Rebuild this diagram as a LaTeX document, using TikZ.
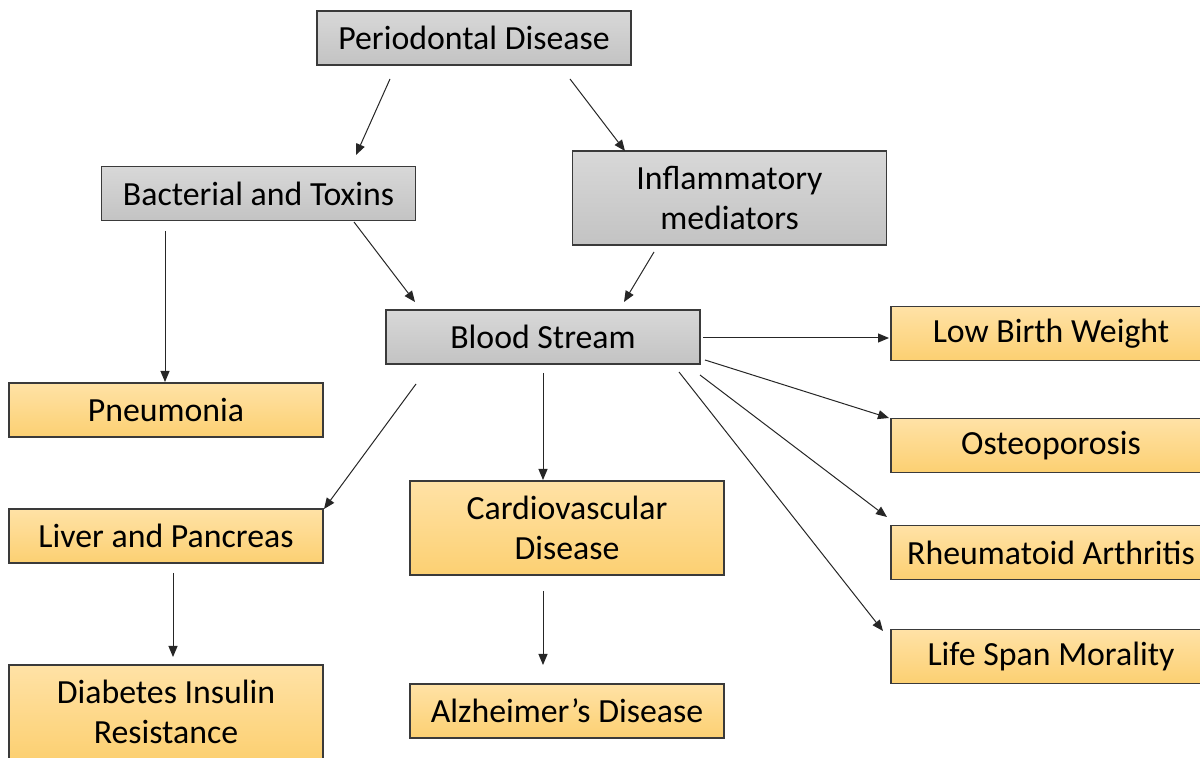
\documentclass[tikz,border=0pt]{standalone}
\usepackage{fontspec}
\setmainfont{Carlito}
\usetikzlibrary{arrows.meta}
\definecolor{orTop}{HTML}{FFE2A6}
\definecolor{orBot}{HTML}{FCD072}
\definecolor{grTop}{HTML}{D8D8D8}
\definecolor{grBot}{HTML}{C3C3C3}
\definecolor{edge}{HTML}{3A3A3A}
\begin{document}
\begin{tikzpicture}[x=0.5pt,y=-0.5pt,
  box/.style={draw=edge, line width=0.6pt, minimum width=157pt, inner sep=0pt, align=center,
    font=\fontsize{16.9}{19.8}\selectfont},
  graybox/.style={box, top color=grTop, bottom color=grBot},
  orangebox/.style={box, top color=orTop, bottom color=orBot},
  short/.style={minimum height=27pt},
  tall/.style={minimum height=47pt},
  conn/.style={draw=black!85, line width=0.5pt, -{Triangle[length=5.5pt,width=4.5pt]}}]
\useasboundingbox (0,0) rectangle (1200,758);
\clip (0,0) rectangle (1200,758);
% nodes
\node[graybox,short] (pd) at (474,38) {Periodontal Disease};
\node[graybox,short] (bt) at (258.5,193.5) {Bacterial and Toxins};
\node[graybox,tall] (im) at (729.5,198) {Inflammatory\\mediators};
\node[graybox,short] (bs) at (543,337) {Blood Stream};
\node[orangebox,short,minimum width=160pt] (lbw) at (1051,333.5) {Low Birth Weight};
\node[orangebox,short] (pn) at (166,410) {Pneumonia};
\node[orangebox,short,minimum width=160pt] (os) at (1051,445.5) {Osteoporosis};
\node[orangebox,short] (lp) at (166,536) {Liver and Pancreas};
\node[orangebox,tall] (cv) at (567,528) {Cardiovascular\\Disease};
\node[orangebox,short,minimum width=160pt] (ra) at (1051,552.5) {Rheumatoid Arthritis};
\node[orangebox,short,minimum width=160pt] (ls) at (1051,656.5) {Life Span Morality};
\node[orangebox,tall] (dr) at (166,712) {Diabetes Insulin\\Resistance};
\node[orangebox,short] (az) at (567,711) {Alzheimer’s Disease};
% connector end points
\coordinate (a1s) at (390,79);  \coordinate (a1e) at (356,155);
\coordinate (a2s) at (570,79);  \coordinate (a2e) at (625,151);
\coordinate (a3s) at (165,231); \coordinate (a3e) at (165,382);
\coordinate (a4s) at (354,222); \coordinate (a4e) at (415,302);
\coordinate (a5s) at (654,252); \coordinate (a5e) at (624,302);
\coordinate (a6s) at (703,338); \coordinate (a6e) at (889,338);
\coordinate (a7s) at (705,360); \coordinate (a7e) at (889,418);
\coordinate (a8s) at (700,375); \coordinate (a8e) at (887,517);
\coordinate (a9s) at (679,372); \coordinate (a9e) at (883,631);
\coordinate (a10s) at (416,384); \coordinate (a10e) at (324,509);
\coordinate (a11s) at (543,373); \coordinate (a11e) at (543,480);
\coordinate (a12s) at (173,573); \coordinate (a12e) at (173,657);
\coordinate (a13s) at (543,591); \coordinate (a13e) at (543,665);
\foreach \i in {1,...,13} {\draw[conn] (a\i s) -- (a\i e);}
\end{tikzpicture}
\end{document}
